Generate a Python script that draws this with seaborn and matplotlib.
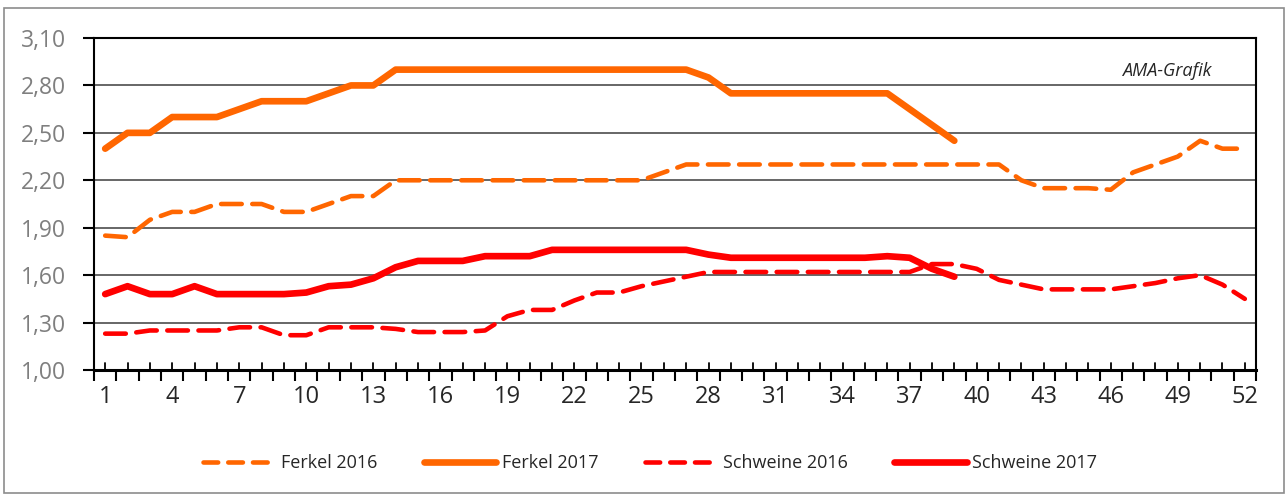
import numpy as np
import pandas as pd
import seaborn as sns
import matplotlib.pyplot as plt
from matplotlib.lines import Line2D
from matplotlib.patches import Rectangle

# Kalenderwochen und Preise (EUR/kg)
weeks = list(range(1, 53))

ferkel_2016 = [1.85, 1.84, 1.95, 2.00, 2.00, 2.05, 2.05, 2.05, 2.00, 2.00,
               2.05, 2.10, 2.10, 2.20, 2.20, 2.20, 2.20, 2.20, 2.20, 2.20,
               2.20, 2.20, 2.20, 2.20, 2.20, 2.25, 2.30, 2.30, 2.30, 2.30,
               2.30, 2.30, 2.30, 2.30, 2.30, 2.30, 2.30, 2.30, 2.30, 2.30,
               2.30, 2.20, 2.15, 2.15, 2.15, 2.14, 2.25, 2.30, 2.35, 2.45,
               2.40, 2.40]
ferkel_2017 = [2.40, 2.50, 2.50, 2.60, 2.60, 2.60, 2.65, 2.70, 2.70, 2.70,
               2.75, 2.80, 2.80, 2.90, 2.90, 2.90, 2.90, 2.90, 2.90, 2.90,
               2.90, 2.90, 2.90, 2.90, 2.90, 2.90, 2.90, 2.85, 2.75, 2.75,
               2.75, 2.75, 2.75, 2.75, 2.75, 2.75, 2.65, 2.55, 2.45]
schweine_2016 = [1.23, 1.23, 1.25, 1.25, 1.25, 1.25, 1.27, 1.27, 1.22, 1.22,
                 1.27, 1.27, 1.27, 1.26, 1.24, 1.24, 1.24, 1.25, 1.34, 1.38,
                 1.38, 1.44, 1.49, 1.49, 1.53, 1.56, 1.59, 1.62, 1.62, 1.62,
                 1.62, 1.62, 1.62, 1.62, 1.62, 1.62, 1.62, 1.67, 1.67, 1.64,
                 1.57, 1.54, 1.51, 1.51, 1.51, 1.51, 1.53, 1.55, 1.58, 1.60,
                 1.54, 1.45]
schweine_2017 = [1.48, 1.53, 1.48, 1.48, 1.53, 1.48, 1.48, 1.48, 1.48, 1.49,
                 1.53, 1.54, 1.58, 1.65, 1.69, 1.69, 1.69, 1.72, 1.72, 1.72,
                 1.76, 1.76, 1.76, 1.76, 1.76, 1.76, 1.76, 1.73, 1.71, 1.71,
                 1.71, 1.71, 1.71, 1.71, 1.71, 1.72, 1.71, 1.64, 1.59]

y_ticks = [1.00, 1.30, 1.60, 1.90, 2.20, 2.50, 2.80, 3.10]
x_ticks = list(range(1, 53, 3))

ORANGE = "#FF6600"
RED = "#FF0000"

series = [
    ("Ferkel 2016", ferkel_2016, ORANGE, True),
    ("Ferkel 2017", ferkel_2017, ORANGE, False),
    ("Schweine 2016", schweine_2016, RED, True),
    ("Schweine 2017", schweine_2017, RED, False),
]

sns.set_style("white")
plt.rcParams["font.family"] = ["Open Sans", "DejaVu Sans"]

fig = plt.figure(figsize=(12.87, 4.95), dpi=100)
ax = fig.add_axes([94 / 1287, 1 - 370 / 495, (1256 - 94) / 1287, (370 - 38) / 495])

handles = []
for name, vals, col, dashed in series:
    df = pd.DataFrame({"Woche": weeks[:len(vals)], "Preis": vals})
    lw = 3.3 if dashed else 4.8
    sns.lineplot(data=df, x="Woche", y="Preis", ax=ax, color=col, lw=lw,
                 linestyle="--" if dashed else "-", zorder=3)
    ln = ax.lines[-1]
    if dashed:
        ln.set_dashes((4.5, 2.3))
        ln.set_dash_capstyle("round")
    ln.set_solid_capstyle("round")
    ln.set_solid_joinstyle("round")
    h = Line2D([], [], color=col, lw=lw, linestyle="--" if dashed else "-")
    if dashed:
        h.set_dashes((3.2, 2.2))
        h.set_dash_capstyle("round")
    h.set_solid_capstyle("round")
    handles.append((h, name))

ax.set_xlim(0.5, 52.5)
ax.set_ylim(1.0, 3.1)
ax.set_xlabel("")
ax.set_ylabel("")

ax.set_yticks(y_ticks)
ax.set_yticklabels([f"{v:.2f}".replace(".", ",") for v in y_ticks],
                   color="#7f7f7f", fontsize=16.5)
ax.set_xticks(np.arange(0.5, 53, 1))
ax.set_xticklabels([])
ax.set_xticks(x_ticks, minor=True)
ax.set_xticklabels([str(w) for w in x_ticks], minor=True, fontsize=17)
ax.tick_params(axis="x", which="major", direction="out", length=8, width=1.5,
               color="black", bottom=True)
ax.tick_params(axis="x", which="minor", direction="in", length=0, pad=11,
               bottom=True)
ax.tick_params(axis="y", direction="out", length=8, width=1.5, color="black",
               left=True, pad=12)

# kleine Striche in der Mitte jeder Woche
for w in weeks:
    ax.plot([w, w], [1.0, 1.0 + 0.045], color="black", lw=1.3,
            clip_on=False, zorder=4)

ax.grid(axis="y", color="#4d4d4d", lw=1.2)
ax.grid(axis="x", visible=False)
for side in ["left", "right", "top"]:
    ax.spines[side].set_color("black")
    ax.spines[side].set_linewidth(1.5)
ax.spines["bottom"].set_color("black")
ax.spines["bottom"].set_linewidth(2.2)

ax.text(0.962, 0.90, "AMA-Grafik", transform=ax.transAxes, ha="right",
        va="center", fontsize=13, style="italic")

fig.legend([h for h, _ in handles], [n for _, n in handles],
           loc="center", bbox_to_anchor=(650 / 1287, 1 - 463 / 495), ncol=4,
           frameon=False, fontsize=13, handlelength=4.0, handletextpad=0.3,
           columnspacing=2.6)

fig.patches.append(Rectangle((4 / 1287, 2 / 495), 1280 / 1287, 485 / 495,
                             transform=fig.transFigure, fill=False,
                             edgecolor="#8c8c8c", lw=1.2))

fig.savefig("out.png", dpi=100)
